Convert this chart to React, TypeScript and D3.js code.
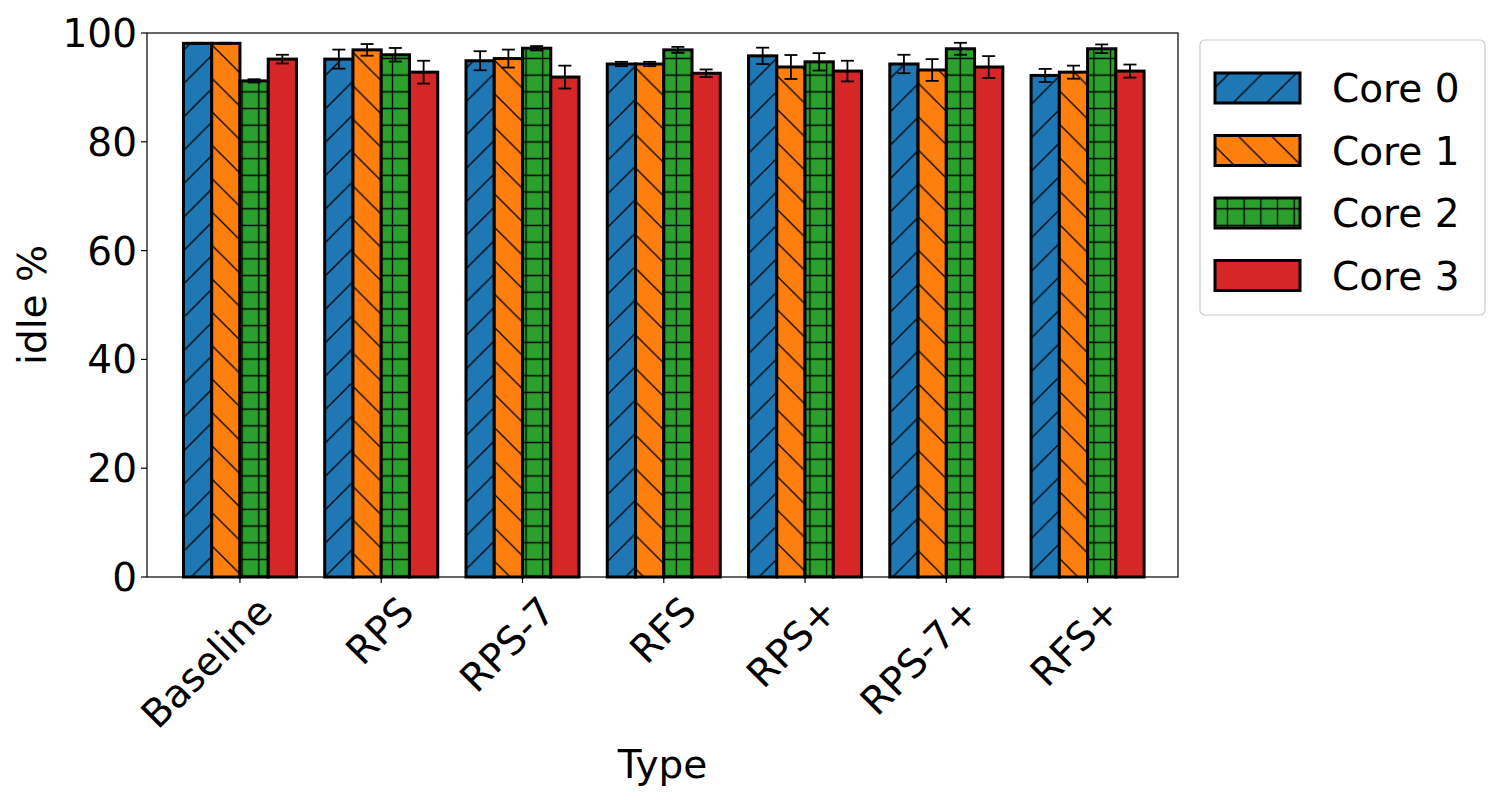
import * as d3 from 'd3';

const categories = ['Baseline', 'RPS', 'RPS-7', 'RFS', 'RPS+', 'RPS-7+', 'RFS+'];
const seriesNames = ['Core 0', 'Core 1', 'Core 2', 'Core 3'];
const core0 = [98.1, 95.2, 94.9, 94.3, 95.8, 94.3, 92.2];
const core1 = [98.1, 96.9, 95.3, 94.3, 93.75, 93.2, 92.8];
const core2 = [91.2, 96.0, 97.2, 96.9, 94.7, 97.1, 97.1];
const core3 = [95.2, 92.8, 91.9, 92.6, 93.0, 93.75, 93.0];
const err0 = [0.1, 1.75, 1.75, 0.4, 1.5, 1.7, 1.2];
const err1 = [0.1, 1.07, 1.65, 0.4, 2.2, 2.0, 1.2];
const err2 = [0.3, 1.25, 0.4, 0.55, 1.6, 1.1, 0.8];
const err3 = [0.8, 2.1, 2.1, 0.7, 1.9, 2.0, 1.2];
const yTicks = [0, 20, 40, 60, 80, 100];

const values = [core0, core1, core2, core3];
const errors = [err0, err1, err2, err3];
const colors = ['#1f77b4', '#ff7f0e', '#2ca02c', '#d62728'];
const fills = ['url(#h0)', 'url(#h1)', 'url(#h2)', colors[3]];
const font = 'DejaVu Sans, sans-serif';

const left = 147, right = 1178, top = 33, bottom = 577;
const x = d3.scaleLinear().domain([-0.658, 6.64]).range([left, right]);
const y = d3.scaleLinear().domain([0, 100]).range([bottom, top]);
const barW = 0.2;

const T = 33.4;

export default function App() {
  const bw = x(barW) - x(0);
  return (
    <svg width={1500} height={800} style={{ position: 'absolute', left: 0, top: 0 }} fontFamily={font}>
      <defs>
        <pattern id="h0" patternUnits="userSpaceOnUse" width={T} height={T}>
          <rect width={T} height={T} fill={colors[0]} />
          <path d={`M0,${T} L${T},0 M-2,2 L2,-2 M${T - 2},${T + 2} L${T + 2},${T - 2}`} stroke="#000" strokeWidth={1.3} />
        </pattern>
        <pattern id="h1" patternUnits="userSpaceOnUse" width={T} height={T}>
          <rect width={T} height={T} fill={colors[1]} />
          <path d={`M0,0 L${T},${T} M${T - 2},-2 L${T + 2},2 M-2,${T - 2} L2,${T + 2}`} stroke="#000" strokeWidth={1.3} />
        </pattern>
        <pattern id="h2" patternUnits="userSpaceOnUse" width={T / 2} height={T / 2}>
          <rect width={T / 2} height={T / 2} fill={colors[2]} />
          <path d={`M${T / 4},0 V${T / 2} M0,${T / 4} H${T / 2}`} stroke="#000" strokeWidth={1.3} />
        </pattern>
      </defs>
      <rect x={left} y={top} width={right - left} height={bottom - top} fill="#fff" stroke="#000" strokeWidth={1.2} />
      {values.map((vals, s) => vals.map((v, i) => {
        const cx = x(i + (s - 1.5) * barW);
        return (
          <g key={`${s}-${i}`}>
            <rect x={cx - bw / 2} y={y(v)} width={bw} height={y(0) - y(v)} fill={fills[s]} stroke="#000" strokeWidth={3} />
            <line x1={cx} x2={cx} y1={y(v - errors[s][i])} y2={y(v + errors[s][i])} stroke="#000" strokeWidth={1.8} />
            <line x1={cx - 6.5} x2={cx + 6.5} y1={y(v - errors[s][i])} y2={y(v - errors[s][i])} stroke="#000" strokeWidth={1.8} />
            <line x1={cx - 6.5} x2={cx + 6.5} y1={y(v + errors[s][i])} y2={y(v + errors[s][i])} stroke="#000" strokeWidth={1.8} />
          </g>
        );
      }))}
      {yTicks.map(t => (
        <g key={t}>
          <line x1={left - 6} x2={left} y1={y(t)} y2={y(t)} stroke="#000" strokeWidth={1.2} />
          <text x={left - 10} y={y(t)} dy="0.36em" textAnchor="end" fontSize={39}>{t}</text>
        </g>
      ))}
      {categories.map((c, i) => (
        <g key={c}>
          <line x1={x(i)} x2={x(i)} y1={bottom} y2={bottom + 6} stroke="#000" strokeWidth={1.2} />
          <text transform={`translate(${x(i) + 14},${bottom + 16}) rotate(-45)`} textAnchor="end" dy="0.75em" fontSize={39}>{c}</text>
        </g>
      ))}
      <text transform={`translate(46,${(top + bottom) / 2}) rotate(-90)`} textAnchor="middle" fontSize={39}>idle %</text>
      <text x={(left + right) / 2} y={778} textAnchor="middle" fontSize={39}>Type</text>
      <rect x={1200} y={40} width={285} height={275} rx={5} fill="#fff" stroke="#ccc" strokeWidth={1.2} />
      {seriesNames.map((n, s) => (
        <g key={n}>
          <rect x={1215} y={73 + s * 62.5} width={85} height={30} fill={fills[s]} stroke="#000" strokeWidth={3} />
          <text x={1332} y={88 + s * 62.5} dy="0.36em" fontSize={39}>{n}</text>
        </g>
      ))}
    </svg>
  );
}
